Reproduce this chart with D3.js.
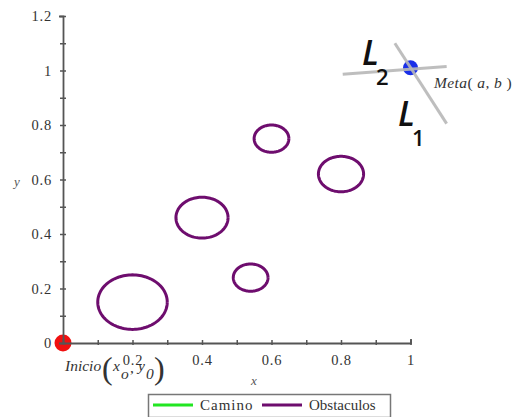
<!DOCTYPE html>
<html><head><meta charset="utf-8">
<script src="https://cdn.jsdelivr.net/npm/d3@7"></script>
<style>body{margin:0;background:#fff}svg{display:block}</style>
</head><body>
<svg id="c" width="527" height="417"></svg>
<script>
// Obstacles: centers and radii
const obsX = [0.2, 0.4, 0.54, 0.6, 0.8];
const obsY = [0.15, 0.46, 0.24, 0.75, 0.62];
const obsR = [0.1, 0.075, 0.05, 0.05, 0.065];
// Start / goal
const start = [0, 0];
const goal = [1, 1.01];
// Lines L1, L2 (endpoints)
const L1 = [[0.955, 1.10], [1.104, 0.805]];
const L2 = [[0.805, 0.986], [1.104, 1.015]];
const xTickLabels = [0.2, 0.4, 0.6, 0.8, 1];
const yTickLabels = [0, 0.2, 0.4, 0.6, 0.8, 1, 1.2];
const legendNames = ["Camino", "Obstaculos"];
const legendColors = ["#22e622", "#6e0d6e"];

const svg = d3.select("#c");
const x = d3.scaleLinear().domain([0, 1]).range([63, 410.5]);
const y = d3.scaleLinear().domain([0, 1.2]).range([343, 16]);
const serif = "'Liberation Serif','DejaVu Serif',serif";

// obstacles
const th = d3.range(0, 361, 3).map(d => d * Math.PI / 180);
obsX.forEach((cx, i) => {
  svg.append("path")
    .attr("d", d3.line()(th.map(t => [x(cx + obsR[i] * Math.cos(t)), y(obsY[i] + obsR[i] * Math.sin(t))])))
    .attr("fill", "none").attr("stroke", legendColors[1]).attr("stroke-width", 3);
});

// start dot
svg.append("circle").attr("cx", x(start[0])).attr("cy", y(start[1])).attr("r", 8.5).attr("fill", "#f01010");
// goal dot
svg.append("circle").attr("cx", x(goal[0])).attr("cy", y(goal[1])).attr("r", 7.5).attr("fill", "#1a2fe8");

// gray lines
[L1, L2].forEach(L => {
  svg.append("line").attr("x1", x(L[0][0])).attr("y1", y(L[0][1]))
    .attr("x2", x(L[1][0])).attr("y2", y(L[1][1]))
    .attr("stroke", "#b8b8b8").attr("stroke-width", 3).attr("opacity", 0.9);
});

// axes
const xAxis = d3.axisBottom(x).tickValues(d3.range(1, 11).map(d => d / 10)).tickSize(-4).tickPadding(12)
  .tickFormat(d => xTickLabels.some(v => Math.abs(v - d) < 1e-9) ? d3.format("")(+d.toFixed(1)) : "");
const gx = svg.append("g").attr("transform", `translate(0,${y(0)})`).call(xAxis);
const yAxis = d3.axisLeft(y).tickValues(d3.range(0, 13).map(d => d / 10)).tickSize(4).tickPadding(7)
  .tickFormat(d => yTickLabels.some(v => Math.abs(v - d) < 1e-9) ? d3.format("")(+d.toFixed(1)) : "");
const gy = svg.append("g").attr("transform", `translate(${x(0)},0)`).call(yAxis);
[gx, gy].forEach(g => {
  g.select(".domain").attr("stroke", "#555").attr("stroke-width", 1.8);
  g.selectAll(".tick line").attr("stroke", "#555").attr("stroke-width", 1.5);
  g.selectAll("text").attr("font-family", serif).attr("font-size", 14.5).attr("fill", "#333")
    .attr("letter-spacing", 0.8);
});
gy.selectAll(".tick line").attr("x1", -3).attr("x2", 3);
gx.selectAll(".tick line").attr("y1", -3).attr("y2", 2);

// axis labels
svg.append("text").attr("x", 254).attr("y", 385).attr("font-family", serif).attr("font-style", "italic")
  .attr("font-size", 13).attr("fill", "#555").attr("text-anchor", "middle").text("x");
svg.append("text").attr("x", 17).attr("y", 186).attr("font-family", serif).attr("font-style", "italic")
  .attr("font-size", 13).attr("fill", "#555").attr("text-anchor", "middle").text("y");

// Inicio label
const ti = svg.append("text").attr("font-family", serif).attr("fill", "#333").attr("font-size", 15.5);
ti.append("tspan").attr("x", 65).attr("y", 371).attr("font-style", "italic").text("Inicio");
ti.append("tspan").attr("x", 102).attr("y", 379).attr("font-size", 32).attr("font-weight", 300).text("(");
ti.append("tspan").attr("x", 113).attr("y", 371).attr("font-style", "italic").text("x");
ti.append("tspan").attr("x", 121).attr("y", 379).attr("font-style", "italic").text("o");
ti.append("tspan").attr("x", 130).attr("y", 373).text(",");
ti.append("tspan").attr("x", 138).attr("y", 371).attr("font-style", "italic").text("y");
ti.append("tspan").attr("x", 146).attr("y", 379).attr("font-style", "italic").text("0");
ti.append("tspan").attr("x", 154).attr("y", 379).attr("font-size", 32).text(")");

// Meta label
const tm = svg.append("text").attr("x", 434).attr("y", 88).attr("font-family", serif).attr("fill", "#333")
  .attr("font-size", 15.5).attr("letter-spacing", 0.4);
tm.append("tspan").attr("font-style", "italic").text("Meta");
tm.append("tspan").text("( ");
tm.append("tspan").attr("font-style", "italic").text("a, b");
tm.append("tspan").text(" )");

// L labels
const sans = "'Open Sans','Liberation Sans',sans-serif";
function Llabel(px, py, sub) {
  const t = svg.append("text").attr("x", px).attr("y", py).attr("font-family", sans).attr("fill", "#111");
  t.append("tspan").attr("font-size", 34).attr("font-style", "italic").attr("font-weight", 600).text("L");
  t.append("tspan").attr("font-size", 22).attr("font-weight", 600).attr("dy", 20).attr("dx", -3).text(sub);
}
Llabel(362, 65, "2");
Llabel(398, 126, "1");

// legend
const lg = svg.append("g");
lg.append("rect").attr("x", 148.5).attr("y", 394.5).attr("width", 242).attr("height", 23)
  .attr("fill", "#fff").attr("stroke", "#777").attr("stroke-width", 1.5);
const lx = [153, 262];
legendNames.forEach((n, i) => {
  lg.append("line").attr("x1", lx[i]).attr("x2", lx[i] + 40).attr("y1", 405).attr("y2", 405)
    .attr("stroke", legendColors[i]).attr("stroke-width", 3);
  lg.append("text").attr("x", lx[i] + 47).attr("y", 410).attr("font-family", serif).attr("font-size", 15)
    .attr("letter-spacing", i === 0 ? 1 : 0).attr("fill", "#333").text(n);
});
</script>
</body></html>
